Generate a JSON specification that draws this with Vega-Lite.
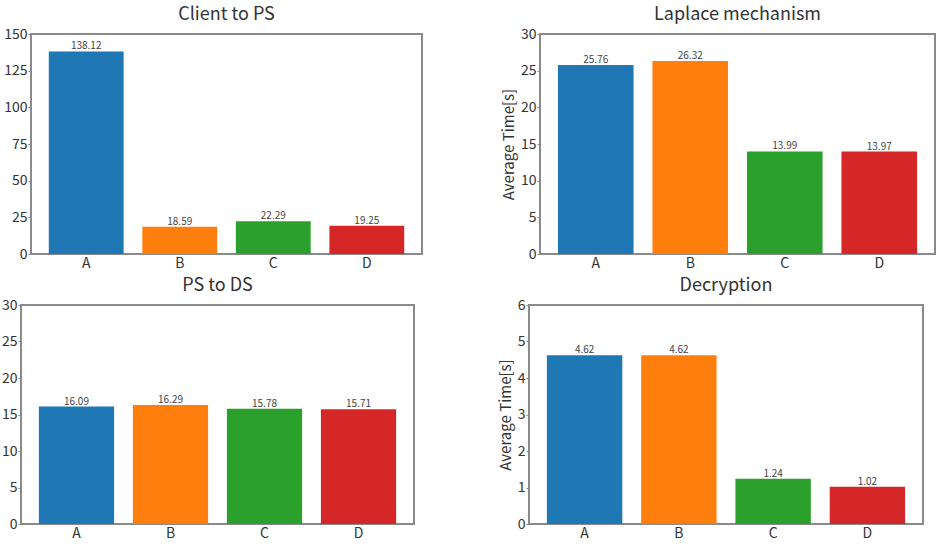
{
  "$schema": "https://vega.github.io/schema/vega-lite/v6.json",
  "background": "white",
  "padding": {"left": 0, "top": 5, "right": 0, "bottom": 0},
  "datasets": {
    "times": [
      {"panel": "Client to PS", "cat": "A", "value": 138.12},
      {"panel": "Client to PS", "cat": "B", "value": 18.59},
      {"panel": "Client to PS", "cat": "C", "value": 22.29},
      {"panel": "Client to PS", "cat": "D", "value": 19.25},
      {"panel": "Laplace mechanism", "cat": "A", "value": 25.76},
      {"panel": "Laplace mechanism", "cat": "B", "value": 26.32},
      {"panel": "Laplace mechanism", "cat": "C", "value": 13.99},
      {"panel": "Laplace mechanism", "cat": "D", "value": 13.97},
      {"panel": "PS to DS", "cat": "A", "value": 16.09},
      {"panel": "PS to DS", "cat": "B", "value": 16.29},
      {"panel": "PS to DS", "cat": "C", "value": 15.78},
      {"panel": "PS to DS", "cat": "D", "value": 15.71},
      {"panel": "Decryption", "cat": "A", "value": 4.62},
      {"panel": "Decryption", "cat": "B", "value": 4.62},
      {"panel": "Decryption", "cat": "C", "value": 1.24},
      {"panel": "Decryption", "cat": "D", "value": 1.02}
    ],
    "spacer": [{"s": 0}]
  },
  "data": {"name": "times"},
  "vconcat": [
    {
      "hconcat": [
        {
          "hconcat": [
            {
              "data": {"name": "spacer"},
              "width": 1, "height": 1,
              "view": {"stroke": null},
              "mark": {"type": "point", "opacity": 0},
              "encoding": {}
            },
            {
              "width": 391, "height": 220,
              "title": {"text": "Client to PS"},
              "transform": [{"filter": "datum.panel === 'Client to PS'"}],
              "encoding": {
                "x": {"field": "cat", "type": "nominal", "scale": {"paddingInner": 0.2, "paddingOuter": 0.19}, "axis": {"labelAngle": 0, "title": null, "ticks": false}},
                "y": {"field": "value", "type": "quantitative", "scale": {"domain": [0, 150]}, "axis": {"values": [0, 25, 50, 75, 100, 125, 150], "title": null}}
              },
              "layer": [
                {"mark": {"type": "bar"}, "encoding": {"color": {"field": "cat", "type": "nominal", "scale": {"domain": ["A", "B", "C", "D"], "range": ["#1f77b4", "#ff7f0e", "#2ca02c", "#d62728"]}, "legend": null}}},
                {"mark": {"type": "text", "baseline": "bottom", "fontSize": 10, "color": "#444", "font": "Noto Sans CJK JP"}, "encoding": {"text": {"field": "value", "type": "quantitative", "format": ".2f"}}}
              ]
            }
          ],
          "spacing": -23
        },
        {
          "width": 395, "height": 220,
          "title": {"text": "Laplace mechanism"},
          "transform": [{"filter": "datum.panel === 'Laplace mechanism'"}],
          "encoding": {
            "x": {"field": "cat", "type": "nominal", "scale": {"paddingInner": 0.2, "paddingOuter": 0.19}, "axis": {"labelAngle": 0, "title": null, "ticks": false}},
            "y": {"field": "value", "type": "quantitative", "scale": {"domain": [0, 30]}, "axis": {"values": [0, 5, 10, 15, 20, 25, 30], "title": "Average Time[s]"}}
          },
          "layer": [
            {"mark": {"type": "bar"}, "encoding": {"color": {"field": "cat", "type": "nominal", "scale": {"domain": ["A", "B", "C", "D"], "range": ["#1f77b4", "#ff7f0e", "#2ca02c", "#d62728"]}, "legend": null}}},
            {"mark": {"type": "text", "baseline": "bottom", "fontSize": 10, "color": "#444", "font": "Noto Sans CJK JP"}, "encoding": {"text": {"field": "value", "type": "quantitative", "format": ".2f"}}}
          ]
        }
      ],
      "spacing": 77
    },
    {
      "hconcat": [
        {
          "width": 393, "height": 219,
          "title": {"text": "PS to DS"},
          "transform": [{"filter": "datum.panel === 'PS to DS'"}],
          "encoding": {
            "x": {"field": "cat", "type": "nominal", "scale": {"paddingInner": 0.2, "paddingOuter": 0.19}, "axis": {"labelAngle": 0, "title": null, "ticks": false}},
            "y": {"field": "value", "type": "quantitative", "scale": {"domain": [0, 30]}, "axis": {"values": [0, 5, 10, 15, 20, 25, 30], "title": null}}
          },
          "layer": [
            {"mark": {"type": "bar"}, "encoding": {"color": {"field": "cat", "type": "nominal", "scale": {"domain": ["A", "B", "C", "D"], "range": ["#1f77b4", "#ff7f0e", "#2ca02c", "#d62728"]}, "legend": null}}},
            {"mark": {"type": "text", "baseline": "bottom", "fontSize": 10, "color": "#444", "font": "Noto Sans CJK JP"}, "encoding": {"text": {"field": "value", "type": "quantitative", "format": ".2f"}}}
          ]
        },
        {
          "width": 394, "height": 219,
          "title": {"text": "Decryption"},
          "transform": [{"filter": "datum.panel === 'Decryption'"}],
          "encoding": {
            "x": {"field": "cat", "type": "nominal", "scale": {"paddingInner": 0.2, "paddingOuter": 0.19}, "axis": {"labelAngle": 0, "title": null, "ticks": false}},
            "y": {"field": "value", "type": "quantitative", "scale": {"domain": [0, 6]}, "axis": {"values": [0, 1, 2, 3, 4, 5, 6], "title": "Average Time[s]"}}
          },
          "layer": [
            {"mark": {"type": "bar"}, "encoding": {"color": {"field": "cat", "type": "nominal", "scale": {"domain": ["A", "B", "C", "D"], "range": ["#1f77b4", "#ff7f0e", "#2ca02c", "#d62728"]}, "legend": null}}},
            {"mark": {"type": "text", "baseline": "bottom", "fontSize": 10, "color": "#444", "font": "Noto Sans CJK JP"}, "encoding": {"text": {"field": "value", "type": "quantitative", "format": ".2f"}}}
          ]
        }
      ],
      "spacing": 82
    }
  ],
  "spacing": 5,
  "resolve": {"scale": {"color": "independent"}},
  "config": {
    "font": "Noto Sans CJK JP",
    "view": {"stroke": "#8a8a8a", "strokeWidth": 2},
    "title": {"fontSize": 18, "fontWeight": "normal", "color": "#333", "offset": 3, "anchor": "middle"},
    "axis": {
      "domain": false,
      "grid": false,
      "labelFontSize": 14,
      "labelColor": "#333",
      "tickColor": "#8a8a8a",
      "tickSize": 3,
      "labelPadding": 1,
      "titleFontSize": 15,
      "titleFontWeight": "normal",
      "titleColor": "#333",
      "titlePadding": 4,
      "minExtent": 0
    },
    "axisX": {"labelPadding": 2}
  }
}
